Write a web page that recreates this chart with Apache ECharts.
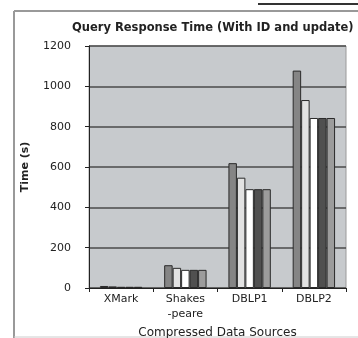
<!DOCTYPE html>
<html>
<head>
<meta charset="utf-8">
<script src="https://cdn.jsdelivr.net/npm/echarts@6/dist/echarts.min.js"></script>
<style>
  html, body { margin: 0; padding: 0; background: #fff; }
  #chart { width: 358px; height: 338px; }
</style>
</head>
<body>
<div id="chart"></div>
<script>
// data
const categories = ["XMark", "Shakes\n-peare", "DBLP1", "DBLP2"];
const s1 = [10, 113, 619, 1078];
const s2 = [8, 100, 547, 932];
const s3 = [6, 90, 490, 843];
const s4 = [6, 90, 490, 843];
const s5 = [6, 90, 490, 843];
const yTicks = [0, 200, 400, 600, 800, 1000, 1200];

const barColors = ["#858585", "#e2e2e2", "#ffffff", "#505050", "#9c9c9c"];
const allSeries = [s1, s2, s3, s4, s5];

const myChart = echarts.init(document.getElementById("chart"));

let series = allSeries.map((d, i) => ({
  name: "s" + (i + 1),
  type: "bar",
  data: d,
  barGap: "0%",
  barCategoryGap: "34%",
  itemStyle: {
    color: barColors[i],
    borderColor: "#2a2a2a",
    borderWidth: 1
  }
}));

let option = {
  backgroundColor: "#fff",
  animation: false,
  title: {
    text: "Query Response Time (With ID and update)",
    left: 67,
    top: 17,
    textStyle: {
      fontFamily: "DejaVu Sans",
      fontSize: 11.5,
      fontWeight: "bold",
      color: "#222"
    }
  },
  grid: {
    left: 89,
    right: 12,
    top: 46,
    bottom: 50,
    outerBoundsMode: "none",
    containLabel: false,
    show: true,
    backgroundColor: "#c7cacd",
    borderColor: "#9a9a9a",
    borderWidth: 1
  },
  xAxis: {
    type: "category",
    data: categories,
    name: "Compressed Data Sources",
    nameLocation: "middle",
    nameGap: 31,
    nameTextStyle: {
      fontFamily: "DejaVu Sans",
      fontSize: 12,
      color: "#222"
    },
    axisLine: { lineStyle: { color: "#222", width: 1 } },
    axisTick: { show: true, length: 4, lineStyle: { color: "#222" } },
    axisLabel: {
      fontFamily: "DejaVu Sans",
      fontSize: 11,
      color: "#222",
      margin: 4,
      lineHeight: 15
    }
  },
  yAxis: {
    type: "value",
    min: yTicks[0],
    max: yTicks[yTicks.length - 1],
    interval: 200,
    name: "Time (s)",
    nameLocation: "middle",
    nameGap: 58,
    nameTextStyle: {
      fontFamily: "DejaVu Sans",
      fontSize: 11,
      fontWeight: "bold",
      color: "#222"
    },
    axisLine: { show: true, lineStyle: { color: "#222", width: 1 } },
    axisTick: { show: true, length: 4, lineStyle: { color: "#222" } },
    axisLabel: {
      fontFamily: "DejaVu Sans",
      fontSize: 11,
      color: "#222",
      margin: 18,
      formatter: (v) => String(v)
    },
    splitLine: { show: true, lineStyle: { color: "#4a4a4a", width: 1.5 } }
  },
  graphic: [
    { type: "line", shape: { x1: 14, y1: 11, x2: 14, y2: 338 }, style: { stroke: "#999", lineWidth: 2 } },
    { type: "line", shape: { x1: 14, y1: 11, x2: 358, y2: 11 }, style: { stroke: "#999", lineWidth: 2 } },
    { type: "line", shape: { x1: 258, y1: 4, x2: 358, y2: 4 }, style: { stroke: "#333", lineWidth: 2 } },
    { type: "line", shape: { x1: 14, y1: 337, x2: 358, y2: 337 }, style: { stroke: "#ccc", lineWidth: 1 } }
  ],
  series: series
};
myChart.setOption(option);
</script>
</body>
</html>
